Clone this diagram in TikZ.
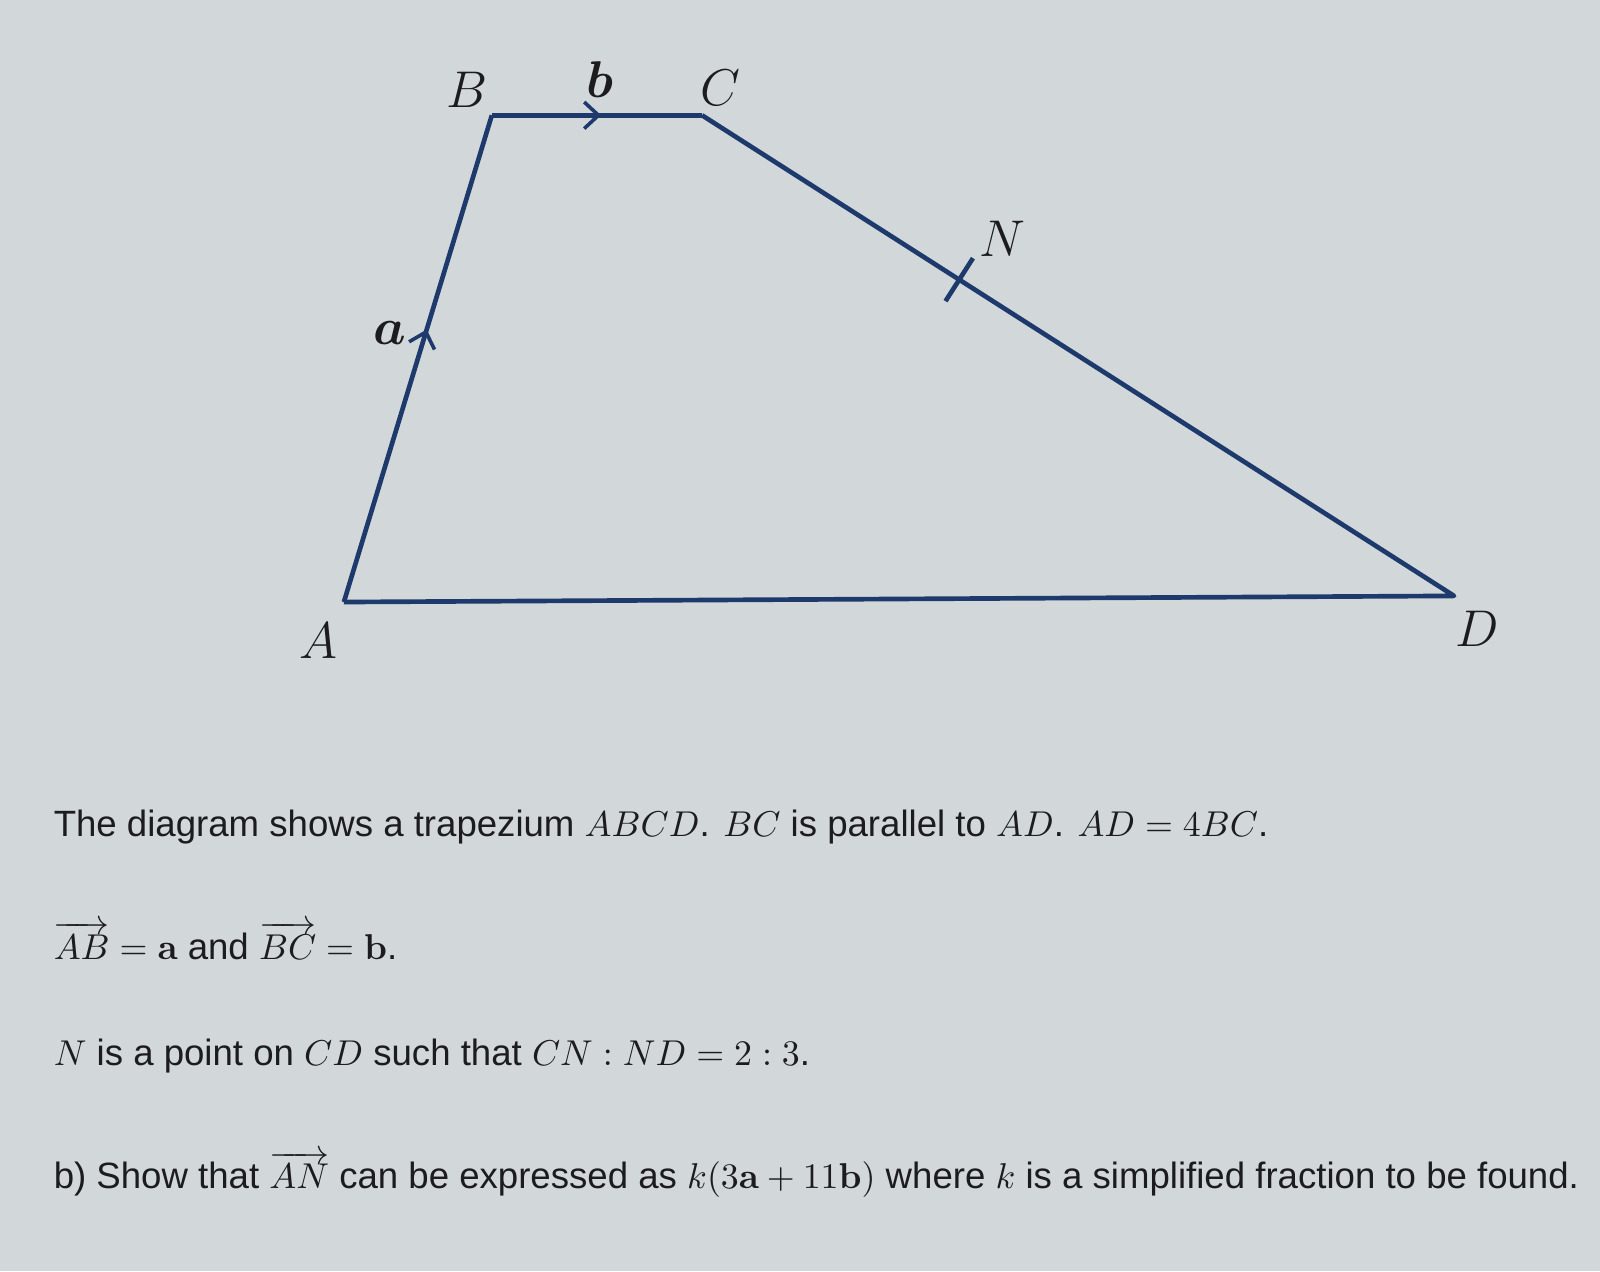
\documentclass[tikz,border=0pt]{standalone}
\usepackage{amsmath}
\usepackage{amssymb}
\usepackage{bm}
\usepackage[no-math]{fontspec}
\setmainfont{Liberation Sans}
\usetikzlibrary{arrows.meta,decorations.markings,calc}

\definecolor{screen}{HTML}{D2D8DA}
\definecolor{edge}{HTML}{1E3A6C}
\definecolor{ink}{HTML}{1C1C1E}

\tikzset{
  side/.style={draw=edge,line width=1.3pt,line join=round},
  midarrow/.style={postaction={decorate},decoration={markings,
      mark=at position #1 with {\arrow[edge,line width=1pt]{Straight Barb[length=1.4mm,width=2.6mm]}}}},
  vertex/.style={font=\fontsize{14}{16}\selectfont,text=ink},
  question/.style={anchor=base west,inner sep=0pt,text=ink,font=\fontsize{10.2}{12}\selectfont}
}

\begin{document}
\begin{tikzpicture}[x=0.01cm,y=-0.01cm]

	% Background
	\path[use as bounding box,fill=screen] (0,0) rectangle (1568,1246);

	% Draw corners
	\coordinate (A) at (337,590);
	\coordinate (B) at (482,113);
	\coordinate (C) at (688,113);
	\coordinate (D) at (1425,584);
	\coordinate (N) at ($(C)!0.342!(D)$);
	\coordinate (Ntop) at ($(N)!0.25cm!90:(D)$);
	\coordinate (Nbot) at ($(N)!0.25cm!-90:(D)$);

	% Draw the trapezium, arrows for a and b
	\draw[side] (A) -- (D) -- (C);
	\draw[side,midarrow=0.56] (A) -- (B);
	\draw[side,midarrow=0.52] (B) -- (C);
	\draw[edge,line width=1.3pt] (Ntop) -- (Nbot);

	% Draw labels
	\node[vertex] (labB) at (458,88) {$B$};
	\node[vertex] (labC) at (706,86) {$C$};
	\node[vertex] (labN) at (982,234) {$N$};
	\node[vertex] (labA) at (312,628) {$A$};
	\node[vertex] (labD) at (1448,616) {$D$};
	\node[vertex] (laba) at (382,326) {$\bm{a}$};
	\node[vertex] (labb) at (588,78) {$\bm{b}$};

	% Question text
	\node[question] (line1) at (52,820) {The diagram shows a trapezium $ABCD$. $BC$ is parallel to $AD$. $AD=4BC$.};
	\node[question] (line2) at (52,940) {$\overrightarrow{AB}=\mathbf{a}$ and $\overrightarrow{BC}=\mathbf{b}$.};
	\node[question] (line3) at (52,1044) {$N$ is a point on $CD$ such that $CN:ND=2:3$.};
	\node[question] (line4) at (52,1165) {b) Show that $\overrightarrow{AN}$ can be expressed as $k(3\mathbf{a}+11\mathbf{b})$ where $k$ is a simplified fraction to be found.};

\end{tikzpicture}
\end{document}
